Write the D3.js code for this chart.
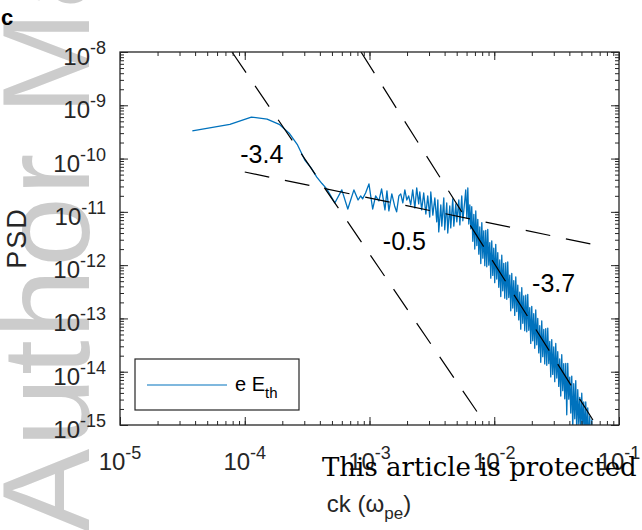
<!DOCTYPE html>
<html>
<head>
<meta charset="utf-8">
<script src="https://cdn.jsdelivr.net/npm/d3@7"></script>
<style>
  body { margin: 0; background: #fff; }
  svg { display: block; }
</style>
</head>
<body>
<svg id="chart" width="642" height="530"></svg>
<script>
// ck (omega_pe) values of the e E_th spectrum
const freq = [
  3.8e-5, 7.6e-5, 1.13e-4, 1.51e-4, 1.89e-4, 2.27e-4, 2.65e-4, 3.03e-4, 3.4e-4, 3.78e-4, 4.16e-4, 4.54e-4,
  5.27e-4, 6.0e-4, 6.7e-4, 7.5e-4, 8.1e-4, 8.5e-4, 8.8e-4, 9.3e-4, 9.9e-4, 1.06e-3,
  1.12e-3, 1.19e-3, 1.25e-3, 1.33e-3, 1.38e-3, 1.43e-3, 1.51e-3, 1.59e-3, 1.65e-3, 1.72e-3,
  1.78e-3, 1.85e-3, 1.92e-3, 1.99e-3, 2.06e-3, 2.14e-3, 2.22e-3, 2.31e-3, 2.39e-3, 2.48e-3,
  2.53e-3, 2.62e-3, 2.72e-3, 2.83e-3, 2.93e-3, 3.04e-3, 3.1e-3, 3.22e-3, 3.34e-3, 3.46e-3,
  3.53e-3, 3.59e-3, 3.73e-3, 3.8e-3, 3.94e-3, 4.01e-3, 4.16e-3, 4.24e-3, 4.4e-3, 4.48e-3,
  4.65e-3, 4.74e-3, 4.92e-3, 5.01e-3, 5.2e-3, 5.3e-3, 5.49e-3, 5.6e-3, 5.81e-3, 5.91e-3,
  6.03e-3, 6.14e-3, 6.25e-3, 6.37e-3, 6.49e-3,
  6.60e-3, 6.73e-3, 6.86e-3, 6.98e-3, 7.11e-3, 7.25e-3, 7.38e-3, 7.52e-3, 7.66e-3, 7.80e-3,
  7.95e-3, 8.10e-3, 8.24e-3, 8.40e-3, 8.55e-3, 8.71e-3, 8.87e-3, 9.04e-3, 9.21e-3, 9.38e-3,
  9.55e-3, 9.73e-3, 9.91e-3, 1.009e-2, 1.028e-2, 1.047e-2, 1.067e-2, 1.087e-2, 1.107e-2, 1.128e-2,
  1.149e-2, 1.170e-2, 1.192e-2, 1.214e-2, 1.237e-2, 1.260e-2, 1.283e-2, 1.307e-2, 1.332e-2, 1.356e-2,
  1.382e-2, 1.407e-2, 1.434e-2, 1.460e-2, 1.488e-2, 1.515e-2, 1.544e-2, 1.572e-2, 1.601e-2, 1.631e-2,
  1.662e-2, 1.693e-2, 1.724e-2, 1.756e-2, 1.789e-2, 1.822e-2, 1.856e-2, 1.891e-2, 1.926e-2, 1.962e-2,
  1.998e-2, 2.035e-2, 2.073e-2, 2.112e-2, 2.151e-2, 2.191e-2, 2.232e-2, 2.274e-2, 2.316e-2, 2.359e-2,
  2.403e-2, 2.448e-2, 2.494e-2, 2.540e-2, 2.587e-2, 2.636e-2, 2.685e-2, 2.735e-2, 2.786e-2, 2.838e-2,
  2.890e-2, 2.944e-2, 2.999e-2, 3.055e-2, 3.112e-2, 3.170e-2, 3.229e-2, 3.289e-2, 3.350e-2, 3.413e-2,
  3.476e-2, 3.541e-2, 3.607e-2, 3.674e-2, 3.743e-2, 3.812e-2, 3.883e-2, 3.956e-2, 4.029e-2, 4.105e-2,
  4.181e-2, 4.259e-2, 4.338e-2, 4.419e-2, 4.502e-2, 4.585e-2, 4.671e-2, 4.758e-2, 4.846e-2, 4.937e-2,
  5.029e-2, 5.122e-2, 5.218e-2, 5.315e-2, 5.414e-2, 5.515e-2, 5.617e-2, 5.722e-2, 5.829e-2, 5.937e-2,
  6.048e-2, 6.160e-2, 6.275e-2, 6.392e-2
];
const psd = [
  3.3e-10, 4.4e-10, 6.0e-10, 5.5e-10, 4.4e-10, 3.0e-10, 1.8e-10, 9.4e-11, 6.7e-11, 4.5e-11, 3.4e-11, 2.7e-11,
  1.47e-11, 2.58e-11, 1.13e-11, 2.58e-11, 1.67e-11, 1.99e-11, 1.75e-11, 2.26e-11, 3.34e-11, 1.13e-11,
  1.99e-11, 1.6e-11, 2.7e-11, 1.09e-11, 2.47e-11, 1.04e-11, 2.17e-11, 1.29e-11, 1.0e-11, 1.99e-11,
  2.17e-11, 1.47e-11, 2.58e-11, 1.67e-11, 1.99e-11, 1.35e-11, 2.58e-11, 1.18e-11, 2.81e-11, 1.41e-11,
  2.36e-11, 1.09e-11, 2.26e-11, 9.1e-12, 1.99e-11, 8.0e-12, 2.36e-11, 8.7e-12, 1.82e-11, 6.5e-12,
  1.67e-11, 4.2e-12, 1.35e-11, 5.4e-12, 1.82e-11, 4.6e-12, 1.47e-11, 4.0e-12, 1.29e-11, 5.0e-12,
  1.75e-11, 5.4e-12, 1.41e-11, 6.5e-12, 1.67e-11, 5.7e-12, 1.99e-11, 6.8e-12, 1.67e-11, 2.58e-11,
  7.7e-12, 2.81e-11, 5.9e-12, 1.35e-11, 4.8e-12,
  1.25e-11, 2.8e-12, 9.0e-12, 2.0e-12, 1.04e-11, 2.33e-12, 7.25e-12, 1.61e-12, 5.2e-12, 1.07e-12,
  6.3e-12, 1.35e-12, 4.4e-12, 9.8e-13, 4.5e-12, 9.3e-13, 4.7e-12, 1.0e-12, 2.65e-12, 5.7e-13,
  2.86e-12, 6.4e-13, 2.08e-12, 4.7e-13, 2.46e-12, 5.5e-13, 1.72e-12, 3.85e-13, 1.26e-12, 2.57e-13,
  1.54e-12, 3.3e-13, 1.08e-12, 2.4e-13, 1.11e-12, 2.29e-13, 1.15e-12, 2.47e-13, 6.5e-13, 1.39e-13,
  7.0e-13, 1.57e-13, 5.1e-13, 1.14e-13, 6.0e-13, 1.35e-13, 4.2e-13, 9.4e-14, 3.1e-13, 6.3e-14,
  3.8e-13, 8.1e-14, 2.64e-13, 5.9e-14, 2.73e-13, 5.6e-14, 2.82e-13, 6.0e-14, 1.59e-13, 3.4e-14,
  1.69e-13, 3.8e-14, 1.23e-13, 2.75e-14, 1.44e-13, 3.2e-14, 1.0e-13, 2.25e-14, 7.3e-14, 1.5e-14,
  9.0e-14, 1.92e-14, 6.2e-14, 1.4e-14, 6.4e-14, 1.32e-14, 6.6e-14, 1.42e-14, 3.7e-14, 8.0e-15,
  4.0e-14, 8.9e-15, 2.92e-14, 6.5e-15, 3.4e-14, 7.6e-15, 2.38e-14, 5.3e-15, 1.74e-14, 3.5e-15,
  2.08e-14, 4.4e-15, 1.42e-14, 3.1e-15, 1.43e-14, 1.55e-15, 1.44e-14, 3.05e-15, 7.9e-15, 1.68e-15,
  8.3e-15, 8.8e-16, 5.95e-15, 1.31e-15, 6.8e-15, 7.4e-16, 4.6e-15, 1.03e-15, 3.3e-15, 6.7e-16,
  3.95e-15, 8.4e-16, 2.7e-15, 5.9e-16, 2.7e-15, 5.4e-16, 2.1e-15, 4.2e-16, 1.47e-15, 3.1e-16,
  1.25e-15, 2.7e-16, 9.6e-16, 2.2e-16
];

// power-law fits (dashed), start / end points
const fitSlopes = ["-3.4", "-0.5", "-3.7"];
const fitStartX = [7.9e-5, 1.0e-4, 8.55e-4];
const fitStartY = [1e-8, 5.6e-11, 1e-8];
const fitEndX = [8.6e-3, 7.7e-2, 6.55e-2];
const fitEndY = [1e-15, 2.2e-12, 1e-15];
const labelX = [9.2e-5, 1.28e-3, 2.01e-2];
const labelY = [8.3e-11, 1.92e-12, 3.13e-13];

const xTickExps = [-5, -4, -3, -2, -1];
const yTickExps = [-15, -14, -13, -12, -11, -10, -9, -8];

var sans = "'Liberation Sans', Arial, Helvetica, sans-serif";
var axisColor = "#262626";
var lineBlue = "#0072BD";

var svg = d3.select("#chart").style("font-family", sans);

// watermark behind the plot
svg.append("text")
  .attr("transform", "translate(89,532) rotate(-90)")
  .attr("font-size", 125)
  .attr("letter-spacing", 2)
  .attr("fill", "#cccccc")
  .text("Author Manuscript");

var x = d3.scaleLog().domain([1e-5, 1e-1]).range([120, 619]);
var y = d3.scaleLog().domain([1e-15, 1e-8]).range([425, 52]);

svg.append("clipPath").attr("id", "plotclip")
  .append("rect")
  .attr("x", 120).attr("y", 52)
  .attr("width", 499).attr("height", 373);

var plot = svg.append("g").attr("clip-path", "url(#plotclip)");

function drawFits() {
  for (var i = 0; i < fitSlopes.length; i++) {
    plot.append("line")
      .attr("x1", x(fitStartX[i])).attr("y1", y(fitStartY[i]))
      .attr("x2", x(fitEndX[i])).attr("y2", y(fitEndY[i]))
      .attr("stroke", "#000")
      .attr("stroke-width", 1.2)
      .attr("stroke-dasharray", "25,16");
  }
}

// spectrum
var line = d3.line()
  .x(function(d, i) { return x(freq[i]); })
  .y(function(d, i) { return y(psd[i]); });

plot.append("path")
  .datum(psd)
  .attr("d", line)
  .attr("fill", "none")
  .attr("stroke", lineBlue)
  .attr("stroke-width", 1.3)
  .attr("stroke-linejoin", "round");

// dashed fits on top of the spectrum
drawFits();

// slope labels
for (var i = 0; i < fitSlopes.length; i++) {
  svg.append("text")
    .attr("x", x(labelX[i])).attr("y", y(labelY[i]))
    .attr("font-size", 25)
    .attr("fill", "#000")
    .text(fitSlopes[i]);
}

// axes: minor + major ticks on all four sides, pointing inwards
var xMinor = x.ticks();
var yMinor = y.ticks();
var xMajor = xTickExps.map(function(e) { return Math.pow(10, e); });
var yMajor = yTickExps.map(function(e) { return Math.pow(10, e); });

function addAxis(gen, tx, ty, vals, size) {
  var g = svg.append("g")
    .attr("transform", "translate(" + tx + "," + ty + ")")
    .call(gen.tickValues(vals).tickSize(-size).tickSizeOuter(0).tickFormat(""));
  g.select(".domain").remove();
  g.selectAll("line").attr("stroke", axisColor).attr("stroke-width", 1);
}
addAxis(d3.axisBottom(x), 0, 425, xMinor, 4);
addAxis(d3.axisBottom(x), 0, 425, xMajor, 8);
addAxis(d3.axisTop(x), 0, 52, xMinor, 4);
addAxis(d3.axisTop(x), 0, 52, xMajor, 8);
addAxis(d3.axisLeft(y), 120, 0, yMinor, 4);
addAxis(d3.axisLeft(y), 120, 0, yMajor, 8);
addAxis(d3.axisRight(y), 619, 0, yMinor, 4);
addAxis(d3.axisRight(y), 619, 0, yMajor, 8);

svg.append("rect")
  .attr("x", 120).attr("y", 52)
  .attr("width", 499).attr("height", 373)
  .attr("fill", "none")
  .attr("stroke", axisColor)
  .attr("stroke-width", 1.3);

// tick labels 10^n
yTickExps.forEach(function(e) {
  var t = svg.append("text")
    .attr("x", 106).attr("y", y(Math.pow(10, e)) + 13)
    .attr("text-anchor", "end")
    .attr("fill", axisColor)
    .attr("font-size", 24);
  t.append("tspan").text("10");
  t.append("tspan").attr("dy", -11).attr("font-size", 18).text(e);
});
xTickExps.forEach(function(e) {
  var t = svg.append("text")
    .attr("x", x(Math.pow(10, e))).attr("y", 470)
    .attr("text-anchor", "middle")
    .attr("fill", axisColor)
    .attr("font-size", 24);
  t.append("tspan").text("10");
  t.append("tspan").attr("dy", -11).attr("font-size", 18).text(e);
});

// axis titles
svg.append("text")
  .attr("transform", "translate(26,238) rotate(-90)")
  .attr("text-anchor", "middle")
  .attr("font-size", 27)
  .attr("letter-spacing", 2)
  .attr("fill", axisColor)
  .text("PSD");

var xl = svg.append("text")
  .attr("x", 369).attr("y", 512)
  .attr("text-anchor", "middle")
  .attr("font-size", 24)
  .attr("fill", axisColor);
xl.append("tspan").text("ck (\u03c9");
xl.append("tspan").attr("dy", 7).attr("font-size", 17).text("pe");
xl.append("tspan").attr("dy", -7).text(")");

// legend
svg.append("rect")
  .attr("x", 135).attr("y", 359)
  .attr("width", 164).attr("height", 51)
  .attr("fill", "#fff")
  .attr("stroke", axisColor)
  .attr("stroke-width", 1.2);
svg.append("line")
  .attr("x1", 147).attr("x2", 227)
  .attr("y1", 385).attr("y2", 385)
  .attr("stroke", lineBlue)
  .attr("stroke-width", 1.2);
var lt = svg.append("text")
  .attr("x", 235).attr("y", 391)
  .attr("font-size", 20)
  .attr("fill", "#000");
lt.append("tspan").text("e E");
lt.append("tspan").attr("dy", 7).attr("font-size", 15).text("th");

// panel letter
svg.append("text")
  .attr("x", 1).attr("y", 25)
  .attr("font-size", 22)
  .attr("font-weight", "bold")
  .attr("fill", "#000")
  .text("c");

// publisher overlay
svg.append("text")
  .attr("x", 322).attr("y", 476)
  .style("font-family", "'DejaVu Serif', serif")
  .attr("font-size", 26)
  .attr("fill", "#000")
  .text("This article is protected by copyright. All rights reserved");
</script>
</body>
</html>
